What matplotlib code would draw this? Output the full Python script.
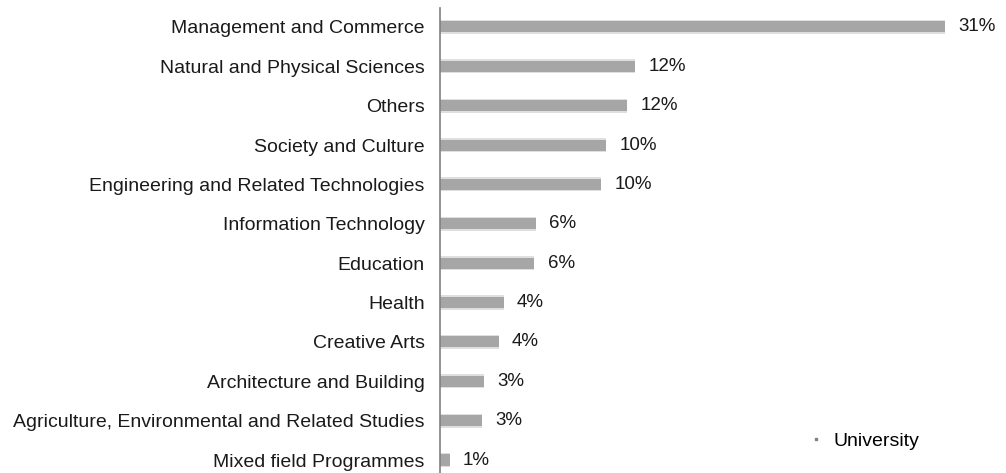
import matplotlib.pyplot as plt
from matplotlib.lines import Line2D

categories = ['Management and Commerce', 'Natural and Physical Sciences', 'Others',
              'Society and Culture', 'Engineering and Related Technologies',
              'Information Technology', 'Education', 'Health', 'Creative Arts',
              'Architecture and Building', 'Agriculture, Environmental and Related Studies',
              'Mixed field Programmes']
values = [31.0, 12.0, 11.5, 10.2, 9.9, 5.9, 5.8, 3.9, 3.6, 2.7, 2.6, 0.6]
labels = ['31%', '12%', '12%', '10%', '10%', '6%', '6%', '4%', '4%', '3%', '3%', '1%']

plt.rcParams['font.family'] = ['Liberation Sans', 'DejaVu Sans']

fig = plt.figure(figsize=(10.06, 4.73), dpi=100)
ax = fig.add_axes([440/1006, 0, 566/1006, 1 - 8/473])

n = len(categories)
ypos = [n - 1 - i for i in range(n)]

# soft edge to mimic the blurred bars
ax.barh(ypos, values, height=0.36, color='#a6a6a6', alpha=0.35, linewidth=0)
ax.barh(ypos, values, height=0.28, color='#a6a6a6', linewidth=0)

for y, v, lab in zip(ypos, values, labels):
    ax.text(v + 0.8, y, lab, va='center', ha='left', fontsize=13.5, color='#1a1a1a')

ax.set_xlim(0, 31 * 566 / 505)
ax.set_ylim(-0.33, n - 1 + 0.48)
ax.set_yticks(ypos)
ax.set_yticklabels(categories, fontsize=14, color='#1a1a1a')
ax.tick_params(axis='y', length=0, pad=11)
ax.set_xticks([])
for s in ['top', 'right', 'bottom']:
    ax.spines[s].set_visible(False)
ax.spines['left'].set_color('#808080')
ax.spines['left'].set_linewidth(1.2)

handle = Line2D([], [], marker='s', markersize=2, linestyle='none', color='#808080')
fig.legend([handle], ['University'], loc='center left', bbox_to_anchor=(789/1006, 1 - 441/473),
           frameon=False, fontsize=14, handletextpad=0.4, handlelength=1.0)

fig.savefig('out.png', dpi=100)
